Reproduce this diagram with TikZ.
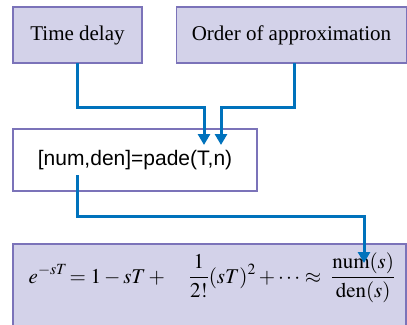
\documentclass[tikz,border=0pt]{standalone}
\usepackage{mathptmx}
\usepackage[no-math]{fontspec}
\setmainfont{Liberation Serif}
\newfontfamily\arialfont{Liberation Sans}
\usetikzlibrary{arrows.meta}
\definecolor{lav}{HTML}{D3D2E9}
\definecolor{bord}{HTML}{7B73B9}
\definecolor{conn}{HTML}{0072BC}
\tikzset{
  x=1pt,y=1pt,
  box/.style={draw=bord,line width=1.3pt,inner sep=0pt,font=\fontsize{21}{25}\selectfont},
  lavbox/.style={box,fill=lav},
  wire/.style={draw=conn,line width=3pt,-{Triangle[width=12pt,length=11pt]}}
}
\begin{document}
\begin{tikzpicture}
\useasboundingbox (0,0) rectangle (407,-324);
\node[lavbox,minimum width=129pt,minimum height=56pt] (delay) at (77.5,-35) {Time delay};
\node[lavbox,minimum width=230pt,minimum height=56pt] (order) at (291.5,-35) {Order of approximation};
\node[box,fill=white,minimum width=244pt,minimum height=62pt] (pade) at (135,-160) {\arialfont [num,den]=pade(T,n)};
\node[lavbox,minimum width=393pt,minimum height=90pt] (fbox) at (209.5,-289) {};
\node[inner sep=0pt,anchor=base,font=\fontsize{21}{25}\selectfont] (formula) at (212,-283)
  {$\displaystyle e^{-sT}\!=1-sT+\quad\frac{1}{2!}(sT)^2+\cdots\approx\ \frac{\mathrm{num}(s)}{\mathrm{den}(s)}$};
\coordinate (s1) at (77,-63);
\coordinate (s2) at (294,-63);
\coordinate (t1) at (204,-145);
\coordinate (t2) at (221,-145);
\coordinate (s3) at (77,-175);
\coordinate (t3) at (364,-263);
\draw[wire] (s1) -- (77,-107) -| (t1);
\draw[wire] (s2) -- (294,-107) -| (t2);
\draw[wire] (s3) -- (77,-216) -| (t3);
\end{tikzpicture}
\end{document}
